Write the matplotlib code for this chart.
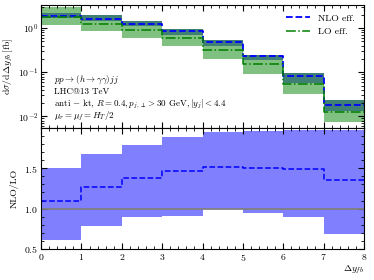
import numpy as np
import matplotlib.pyplot as plt

plt.rcParams['font.family'] = 'serif'
plt.rcParams['font.serif'] = ['cmr10', 'DejaVu Serif']
plt.rcParams['mathtext.fontset'] = 'cm'
plt.rcParams['axes.formatter.use_mathtext'] = True
plt.rcParams['font.size'] = 7

edges = np.arange(0, 9)

# top panel: cross section per bin [fb]
nlo = [1.89, 1.57, 1.25, 0.87, 0.48, 0.23, 0.081, 0.018]
nlo_up = [2.2, 1.99, 1.46, 0.96, 0.53, 0.25, 0.094, 0.0236]
nlo_dn = [1.70, 1.41, 1.09, 0.71, 0.40, 0.19, 0.058, 0.0132]
lo = [1.74, 1.25, 0.92, 0.60, 0.325, 0.155, 0.055, 0.0128]
lo_up = [3.0, 1.99, 1.46, 0.96, 0.53, 0.25, 0.094, 0.0236]
lo_dn = [1.19, 0.84, 0.60, 0.39, 0.20, 0.093, 0.033, 0.0074]

# bottom panel: NLO/LO ratio
ratio = [1.10, 1.27, 1.38, 1.47, 1.51, 1.50, 1.49, 1.36]
ratio_up = [1.50, 1.675, 1.79, 1.89, 1.95, 1.96, 1.97, 1.98]
ratio_dn = [0.61, 0.79, 0.90, 0.91, 0.99, 0.95, 0.90, 0.68]


def st(v):
    return np.append(v, v[-1])


fig = plt.figure(figsize=(3.74, 2.8), dpi=100)
ax1 = fig.add_axes([0.110, 0.543, 0.863, 0.439])
ax2 = fig.add_axes([0.110, 0.111, 0.863, 0.432], sharex=ax1)

ax1.fill_between(edges, st(lo_dn), st(lo_up), step='post', color='#80c080', lw=0)
ax1.fill_between(edges, st(nlo_dn), st(nlo_up), step='post', color='#3f7f74', lw=0)
ax1.step(edges, st(nlo), where='post', color='blue', ls='--', lw=1.3, label='NLO eff.')
ax1.step(edges, st(lo), where='post', color='green', ls='-.', lw=1.1, label='LO eff.')
ax1.set_yscale('log')
ax1.set_ylim(0.0055, 3.3)
ax1.set_xlim(0, 8)
ax1.set_ylabel(r'$\mathrm{d}\sigma/\mathrm{d}\Delta y_{fb}\,[\mathrm{fb}]$')
ax1.yaxis.set_label_coords(-0.08, 0.5)
ax1.legend(loc='upper right', frameon=False, fontsize=7, handlelength=2.5)
ax1.tick_params(labelbottom=False)

txt = [r'$pp \to (h \to \gamma\gamma)jj$',
       'LHC@13 TeV',
       r'anti $-$ kt, $R = 0.4, p_{j,\perp} > 30$ GeV$, |y_j| < 4.4$',
       r'$\mu_r = \mu_f = H_T/2$']
for t, yy in zip(txt, [0.39, 0.295, 0.195, 0.095]):
    ax1.text(0.04, yy, t, fontsize=6.5, va='center', transform=ax1.transAxes)

ax2.fill_between(edges, st(ratio_dn), st(ratio_up), step='post', color='#8080ff', lw=0)
ax2.axhline(1.0, color='grey', lw=1.3)
ax2.step(edges, st(ratio), where='post', color='blue', ls='--', lw=1.1)
ax2.set_ylim(0.5, 2.0)
ax2.set_yticks([0.5, 1.0, 1.5])
ax2.set_yticks(np.arange(0.5, 2.0, 0.1), minor=True)
ax2.set_xticks(range(9))
ax2.set_xticks(np.arange(0, 8.01, 0.2), minor=True)
ax2.set_ylabel('NLO/LO')
ax2.yaxis.set_label_coords(-0.07, 0.5)
ax2.set_xlabel(r'$\Delta y_{fb}$', loc='right', labelpad=1)

for ax in (ax1, ax2):
    ax.tick_params(which='both', direction='in', top=True, right=True)
    ax.tick_params(which='major', length=4, pad=2)
    ax.tick_params(which='minor', length=2)

fig.savefig('out.png', dpi=100)
